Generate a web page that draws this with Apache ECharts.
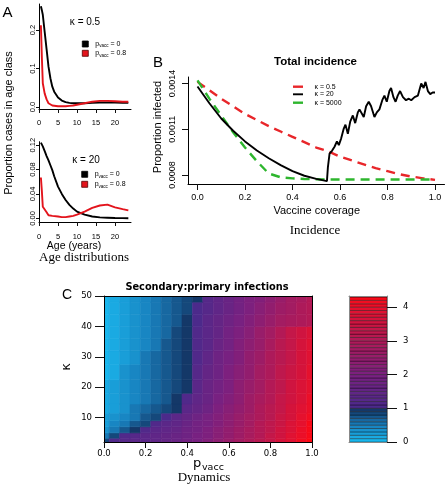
<!DOCTYPE html>
<html><head><meta charset="utf-8">
<script src="https://cdn.jsdelivr.net/npm/echarts@6/dist/echarts.min.js"></script>
<style>html,body{margin:0;padding:0;background:#fff}#c{width:448px;height:485px}</style>
</head><body><div id="c"></div><script>
// ---------- Panel A data: proportion of cases by age ----------
const ages = [0.5,0.75,1,1.5,2,2.5,3,3.5,4,5,6,7,8,9,10,12,14,16,18,20,22,23.5];
const k05_pv0  = [0.262,0.252,0.240,0.195,0.150,0.105,0.075,0.053,0.040,0.025,0.017,0.013,0.011,0.010,0.010,0.010,0.011,0.012,0.012,0.012,0.011,0.011];
const k05_pv08 = [0.213,0.130,0.062,0.035,0.020,0.010,0.006,0.004,0.003,0.002,0.002,0.002,0.003,0.004,0.006,0.010,0.014,0.016,0.016,0.015,0.014,0.014];
const k20_pv0  = [0.124,0.122,0.118,0.110,0.102,0.095,0.087,0.079,0.069,0.052,0.040,0.030,0.022,0.016,0.011,0.006,0.003,0.0015,0.001,0.0005,0.0003,0.0002];
const k20_pv08 = [0.067,0.045,0.019,0.016,0.010,0.005,0.004,0.004,0.004,0.003,0.002,0.002,0.003,0.004,0.006,0.011,0.017,0.021,0.0225,0.018,0.015,0.013];
const ageTicks = [0,5,10,15,20];
const propTicksTop = [0,0.1,0.2];
const propTicksBottom = [0,0.04,0.08,0.12];

// ---------- Panel B data: total incidence vs vaccine coverage ----------
const coverage = [0,0.05,0.1,0.15,0.2,0.25,0.3,0.35,0.4,0.45,0.5,0.55,0.6,0.65,0.7,0.75,0.8,0.85,0.9,0.95,1.0];
const incK05   = [0.00141,0.001355,0.00130,0.00125,0.00120,0.00116,0.00112,0.001085,0.00105,0.001015,0.00098,0.000955,0.00092,0.000895,0.00087,0.000845,0.000825,0.000805,0.00079,0.000778,0.000768];
const incK5000 = [0.00142,0.00130,0.00119,0.00108,0.00098,0.00089,0.00081,0.000785,0.000778,0.000774,0.000772,0.00077,0.00077,0.00077,0.00077,0.00077,0.00077,0.00077,0.00077,0.00077,0.00077];
const coverageK20 = [0,0.05,0.1,0.15,0.2,0.25,0.3,0.35,0.4,0.45,0.5,0.545,0.549,0.556,0.567,0.577,0.587,0.595,0.605,0.615,0.623,0.633,0.643,0.654,0.664,0.675,0.682,0.69,0.7,0.71,0.721,0.731,0.745,0.755,0.766,0.778,0.787,0.797,0.808,0.815,0.825,0.834,0.843,0.853,0.865,0.878,0.89,0.9,0.914,0.928,0.942,0.952,0.96,0.97,0.98,0.99,1.0];
const incK20 = [0.00138,0.00127,0.00117,0.00109,0.00102,0.00096,0.00091,0.000865,0.000825,0.000795,0.000775,0.00076,0.00085,0.00094,0.00096,0.000985,0.00102,0.000996,0.00104,0.0011,0.00113,0.00107,0.00115,0.00119,0.00114,0.00121,0.00123,0.00123,0.00118,0.00125,0.00128,0.00125,0.00118,0.00121,0.00123,0.00129,0.00132,0.00128,0.00135,0.00137,0.00131,0.00128,0.00132,0.00135,0.00131,0.00129,0.0013,0.00129,0.00131,0.00132,0.0014,0.00137,0.00141,0.00135,0.00133,0.00134,0.00134];
const coverTicks = [0,0.2,0.4,0.6,0.8,1.0];
const incTicks = [0.0008,0.0011,0.0014];

// ---------- Panel C data: secondary:primary ratio ----------
const pvaccCols = [0,0.05,0.1,0.15,0.2,0.25,0.3,0.35,0.4,0.45,0.5,0.55,0.6,0.65,0.7,0.75,0.8,0.85,0.9,0.95,1.0];
const kappaRows = [2.5,4,6,8,10,13,16,20,25,30,34,38,42,46,50];
const secPrimRatio = [
 [0.85,1.10,1.20,1.30,1.35,1.45,1.55,1.65,1.80,1.95,2.10,2.30,2.50,2.70,2.90,3.10,3.35,3.60,3.85,4.10,4.30],
 [0.55,0.85,1.10,1.20,1.30,1.40,1.50,1.62,1.76,1.92,2.08,2.27,2.47,2.67,2.88,3.08,3.32,3.56,3.80,4.05,4.28],
 [0.38,0.55,0.72,0.90,1.15,1.30,1.42,1.55,1.70,1.86,2.03,2.22,2.42,2.62,2.83,3.04,3.28,3.52,3.76,4.00,4.25],
 [0.27,0.42,0.57,0.72,0.87,1.10,1.30,1.45,1.62,1.80,1.98,2.17,2.37,2.58,2.79,3.00,3.23,3.47,3.71,3.95,4.20],
 [0.20,0.33,0.46,0.58,0.70,0.84,1.05,1.30,1.50,1.70,1.90,2.10,2.30,2.52,2.73,2.95,3.18,3.42,3.66,3.90,4.15],
 [0.15,0.27,0.39,0.50,0.61,0.72,0.83,0.97,1.30,1.55,1.78,2.00,2.22,2.45,2.67,2.90,3.13,3.37,3.60,3.84,4.08],
 [0.12,0.23,0.35,0.46,0.57,0.68,0.79,0.90,1.15,1.45,1.68,1.92,2.15,2.38,2.61,2.85,3.08,3.32,3.55,3.78,4.02],
 [0.10,0.21,0.32,0.43,0.54,0.65,0.76,0.87,0.97,1.35,1.60,1.85,2.08,2.32,2.55,2.79,3.02,3.26,3.50,3.73,3.96],
 [0.08,0.19,0.30,0.41,0.52,0.63,0.74,0.85,0.95,1.25,1.52,1.77,2.00,2.24,2.48,2.72,2.95,3.20,3.44,3.68,3.92],
 [0.06,0.17,0.28,0.39,0.50,0.61,0.72,0.83,0.94,1.18,1.45,1.70,1.93,2.17,2.41,2.65,2.90,3.15,3.39,3.63,3.87],
 [0.04,0.15,0.26,0.37,0.48,0.59,0.70,0.81,0.92,1.12,1.38,1.62,1.86,2.10,2.34,2.58,2.84,3.10,3.35,3.60,3.83],
 [0.03,0.14,0.25,0.36,0.47,0.58,0.69,0.80,0.91,1.10,1.35,1.58,1.82,2.05,2.28,2.52,2.78,3.05,3.35,3.55,3.70],
 [0.02,0.13,0.24,0.35,0.46,0.57,0.68,0.79,0.90,1.05,1.30,1.50,1.70,1.90,2.10,2.30,2.50,2.70,2.88,2.98,3.05],
 [0.01,0.12,0.23,0.34,0.45,0.56,0.67,0.78,0.89,1.02,1.27,1.47,1.66,1.85,2.04,2.23,2.42,2.60,2.78,2.92,3.02],
 [0.00,0.11,0.22,0.33,0.44,0.55,0.66,0.77,0.88,0.99,1.24,1.44,1.63,1.82,2.00,2.18,2.36,2.54,2.72,2.88,3.00]
];
const kappaTicks = [10,20,30,40,50];
const colorLevels = [0,0.1,0.2,0.3,0.4,0.5,0.6,0.7,0.8,0.9,1.0,1.1,1.2,1.3,1.4,1.5,1.6,1.7,1.8,1.9,2.0,2.1,2.2,2.3,2.4,2.5,2.6,2.7,2.8,2.9,3.0,3.1,3.2,3.3,3.4,3.5,3.6,3.7,3.8,3.9,4.0,4.1,4.2,4.3,4.33];
const colorTicks = [0,1,2,3,4];

// ---------- colour scale ----------
const blueStops = [[0,[26,182,236]],[0.5,[24,128,190]],[1,[20,56,104]]];
const redStops = [[1.0,[74,42,140]],[2.0,[122,32,128]],[3.0,[176,26,88]],[4.0,[232,16,44]],[4.35,[255,8,18]]];
function interp(stops, v){
  if (v <= stops[0][0]) return stops[0][1];
  for (let i=1;i<stops.length;i++){
    if (v <= stops[i][0]){
      const t=(v-stops[i-1][0])/(stops[i][0]-stops[i-1][0]);
      const a=stops[i-1][1], b=stops[i][1];
      return [0,1,2].map(j=>Math.round(a[j]+(b[j]-a[j])*t));
    }
  }
  return stops[stops.length-1][1];
}
function colorFor(z){
  let c;
  if (z < 1){ const b=Math.min(9,Math.max(0,Math.floor(z*10+1e-9))); c=interp(blueStops,b/9); }
  else { const b=Math.floor((z-1)*10+1e-9); c=interp(redStops,1+(b+0.5)*0.1); }
  return 'rgb('+c.join(',')+')';
}

const SANS='"Liberation Sans", Arial, sans-serif';
const DV='"DejaVu Sans", sans-serif';
const SERIF='"Liberation Serif", "Times New Roman", serif';

function ax(gridIndex, min, max, ticks, fmt, o){
  o=o||{};
  return {
    type:'value', gridIndex:gridIndex, min:min, max:max, position:o.position,
    axisLine:{show:true,onZero:false,lineStyle:{color:o.lineColor||'#000',width:1}},
    axisTick:{show:!!ticks, length:o.tickLen||4, customValues:ticks||undefined, lineStyle:{color:'#111',width:1}},
    axisLabel:{show:!!ticks, customValues:ticks||undefined, formatter:fmt, fontSize:o.fs||8, fontFamily:o.ff||SANS, color:'#000', margin:o.margin||6, rotate:o.rotate||0},
    splitLine:{show:false}, z:10
  };
}
const f1=v=>v.toFixed(1), f2=v=>v.toFixed(2), f4=v=>v.toFixed(4), fi=v=>String(v);

const heatData=[];
kappaRows.forEach((k,ri)=>pvaccCols.forEach((p,ci)=>heatData.push([p,k,secPrimRatio[ri][ci],ri])));
const cbData=[];
for(let i=0;i<colorLevels.length-1;i++) cbData.push([colorLevels[i],colorLevels[i+1]]);

const kMin=2, kMax=50, halfCol=0.025;
const richP={a:{fontSize:7,fontFamily:SANS,lineHeight:9},b:{fontSize:4.5,fontFamily:SANS,verticalAlign:'bottom',lineHeight:9}};

const chart=echarts.init(document.getElementById('c'),null,{renderer:'canvas'});
chart.setOption({
  animation:false,
  backgroundColor:'#fff',
  grid:[
    {left:39,top:4,width:92,height:105},
    {left:39,top:141.7,width:92,height:80.3},
    {left:188,top:77,width:256.5,height:107},
    {left:104,top:296,width:208,height:146},
    {left:349,top:296,width:38,height:146}
  ],
  xAxis:[
    ax(0,0,24.2,ageTicks,fi,{fs:7.5,margin:10,tickLen:4}),
    ax(1,0,24.2,ageTicks,fi,{fs:7.5,margin:11,tickLen:4}),
    ax(2,-0.04,1.04,coverTicks,f1,{fs:9,margin:9,tickLen:6}),
    ax(3,0,1,coverTicks,f1,{fs:8.5,ff:DV,margin:7,tickLen:6}),
    ax(3,0,1,null,null,{position:'top'}),
    ax(4,0,1,null,null,{lineColor:'#888'}),
    ax(4,0,1,null,null,{position:'top',lineColor:'#888'})
  ],
  yAxis:[
    ax(0,-0.005,0.268,propTicksTop,f1,{fs:7.5,margin:2.5,tickLen:3,rotate:90}),
    ax(1,-0.006,0.1256,propTicksBottom,f2,{fs:7.5,margin:2.5,tickLen:3,rotate:90}),
    ax(2,0.000741,0.001442,incTicks,f4,{fs:9,margin:11,tickLen:6,rotate:90}),
    ax(3,kMin,kMax,kappaTicks,fi,{fs:8.5,ff:DV,margin:12,tickLen:9}),
    ax(3,kMin,kMax,null,null,{position:'right'}),
    ax(4,0,4.33,null,null,{lineColor:'#888'}),
    ax(4,0,4.33,colorTicks,fi,{position:'right',fs:8.5,ff:DV,margin:16,tickLen:10,lineColor:'#888'})
  ],
  series:[
    {type:'line',xAxisIndex:0,yAxisIndex:0,data:ages.map((a,i)=>[a,k05_pv0[i]]),showSymbol:false,symbol:'none',lineStyle:{color:'#000',width:1.9},z:3},
    {type:'line',xAxisIndex:0,yAxisIndex:0,data:ages.map((a,i)=>[a,k05_pv08[i]]),showSymbol:false,symbol:'none',lineStyle:{color:'#e3141c',width:1.9},z:3},
    {type:'line',xAxisIndex:1,yAxisIndex:1,data:ages.map((a,i)=>[a,k20_pv0[i]]),showSymbol:false,symbol:'none',lineStyle:{color:'#000',width:1.9},z:3},
    {type:'line',xAxisIndex:1,yAxisIndex:1,data:ages.map((a,i)=>[a,k20_pv08[i]]),showSymbol:false,symbol:'none',lineStyle:{color:'#e3141c',width:1.9},z:3},
    {type:'line',xAxisIndex:2,yAxisIndex:2,data:coverage.map((p,i)=>[p,incK05[i]]),showSymbol:false,symbol:'none',lineStyle:{color:'#e8262a',width:2.4,type:[9,6]},z:3},
    {type:'line',xAxisIndex:2,yAxisIndex:2,data:coverage.map((p,i)=>[p,incK5000[i]]),showSymbol:false,symbol:'none',lineStyle:{color:'#2eb62e',width:2.4,type:[9,6]},z:3},
    {type:'line',xAxisIndex:2,yAxisIndex:2,data:coverageK20.map((p,i)=>[p,incK20[i]]),showSymbol:false,symbol:'none',lineStyle:{color:'#000',width:1.9},z:4},
    {type:'custom',xAxisIndex:3,yAxisIndex:3,clip:true,data:heatData,z:1,
     renderItem:function(params,api){
       const p=api.value(0), z=api.value(2), ri=api.value(3);
       const kLo = ri===0 ? kMin : (kappaRows[ri-1]+kappaRows[ri])/2;
       const kHi = ri===kappaRows.length-1 ? kMax : (kappaRows[ri]+kappaRows[ri+1])/2;
       const a=api.coord([Math.max(0,p-halfCol),kHi]), b=api.coord([Math.min(1,p+halfCol),kLo]);
       const col=colorFor(z);
       return {type:'rect',shape:{x:a[0],y:a[1],width:b[0]-a[0],height:b[1]-a[1]},style:{fill:col,stroke:col,lineWidth:0.6}};
     }},
    {type:'custom',xAxisIndex:5,yAxisIndex:6,clip:true,data:cbData,z:1,
     renderItem:function(params,api){
       const lo=api.value(0), hi=api.value(1);
       const a=api.coord([0,hi]), b=api.coord([1,lo]);
       return {type:'rect',shape:{x:a[0],y:a[1],width:b[0]-a[0],height:b[1]-a[1]},style:{fill:colorFor((lo+hi)/2),stroke:'rgba(0,0,0,0.6)',lineWidth:0.6}};
     }}
  ],
  graphic:{elements:[
    {type:'text',x:7.5,y:12.5,style:{text:'A',font:'15px '+SANS,fill:'#000',textAlign:'center',textVerticalAlign:'middle'}},
    {type:'text',x:85,y:22,style:{text:'κ = 0.5',font:'10px '+SANS,fill:'#000',textAlign:'center',textVerticalAlign:'middle'}},
    {type:'rect',shape:{x:82.3,y:41,width:6,height:6},style:{fill:'#000',stroke:'#000',lineWidth:0.8}},
    {type:'rect',shape:{x:82.3,y:50.3,width:6,height:6},style:{fill:'#e3141c',stroke:'#500',lineWidth:0.8}},
    {type:'text',x:95.3,y:44,style:{text:'{a|p}{b|vacc}{a| = 0}',rich:richP,fill:'#000',textAlign:'left',textVerticalAlign:'middle'}},
    {type:'text',x:95.3,y:53.3,style:{text:'{a|p}{b|vacc}{a| = 0.8}',rich:richP,fill:'#000',textAlign:'left',textVerticalAlign:'middle'}},
    {type:'text',x:86,y:160,style:{text:'κ = 20',font:'10px '+SANS,fill:'#000',textAlign:'center',textVerticalAlign:'middle'}},
    {type:'rect',shape:{x:81.7,y:171.3,width:6,height:6},style:{fill:'#000',stroke:'#000',lineWidth:0.8}},
    {type:'rect',shape:{x:81.7,y:181.3,width:6,height:6},style:{fill:'#e3141c',stroke:'#500',lineWidth:0.8}},
    {type:'text',x:94.7,y:174.3,style:{text:'{a|p}{b|vacc}{a| = 0}',rich:richP,fill:'#000',textAlign:'left',textVerticalAlign:'middle'}},
    {type:'text',x:94.7,y:184.3,style:{text:'{a|p}{b|vacc}{a| = 0.8}',rich:richP,fill:'#000',textAlign:'left',textVerticalAlign:'middle'}},
    {type:'text',x:8.5,y:123,rotation:Math.PI/2,style:{text:'Proportion cases in age class',font:'11px '+SANS,fill:'#000',textAlign:'center',textVerticalAlign:'middle'}},
    {type:'text',x:74,y:246.5,style:{text:'Age (years)',font:'10.5px '+SANS,fill:'#000',textAlign:'center',textVerticalAlign:'middle'}},
    {type:'text',x:84,y:258,style:{text:'Age distributions',font:'13px '+SERIF,fill:'#000',textAlign:'center',textVerticalAlign:'middle'}},

    {type:'text',x:158,y:62.5,style:{text:'B',font:'15px '+SANS,fill:'#000',textAlign:'center',textVerticalAlign:'middle'}},
    {type:'text',x:315.5,y:62,style:{text:'Total incidence',font:'bold 11.5px '+SANS,fill:'#000',textAlign:'center',textVerticalAlign:'middle'}},
    {type:'line',shape:{x1:293,y1:86.7,x2:303,y2:86.7},style:{stroke:'#e8262a',lineWidth:2.4}},
    {type:'line',shape:{x1:293,y1:94.3,x2:303,y2:94.3},style:{stroke:'#000',lineWidth:1.9}},
    {type:'line',shape:{x1:293,y1:102.7,x2:303,y2:102.7},style:{stroke:'#2eb62e',lineWidth:2.4}},
    {type:'text',x:314.5,y:86.7,style:{text:'κ = 0.5',font:'7px '+SANS,fill:'#000',textAlign:'left',textVerticalAlign:'middle'}},
    {type:'text',x:314.5,y:94.3,style:{text:'κ = 20',font:'7px '+SANS,fill:'#000',textAlign:'left',textVerticalAlign:'middle'}},
    {type:'text',x:314.5,y:102.7,style:{text:'κ = 5000',font:'7px '+SANS,fill:'#000',textAlign:'left',textVerticalAlign:'middle'}},
    {type:'text',x:157.5,y:127,rotation:Math.PI/2,style:{text:'Proportion infected',font:'11px '+SANS,fill:'#000',textAlign:'center',textVerticalAlign:'middle'}},
    {type:'text',x:316.7,y:210.5,style:{text:'Vaccine coverage',font:'11px '+SANS,fill:'#000',textAlign:'center',textVerticalAlign:'middle'}},
    {type:'text',x:315,y:230.5,style:{text:'Incidence',font:'13px '+SERIF,fill:'#000',textAlign:'center',textVerticalAlign:'middle'}},

    {type:'text',x:67,y:295.5,style:{text:'C',font:'14px '+SANS,fill:'#000',textAlign:'center',textVerticalAlign:'middle'}},
    {type:'text',x:207,y:287,style:{text:'Secondary:primary infections',font:'bold 9.8px '+DV,fill:'#000',textAlign:'center',textVerticalAlign:'middle'}},
    {type:'text',x:66.7,y:367,rotation:Math.PI/2,style:{text:'κ',font:'13px '+DV,fill:'#000',textAlign:'center',textVerticalAlign:'middle'}},
    {type:'text',x:193,y:463.5,style:{text:'p',font:'13px '+DV,fill:'#000',textAlign:'left',textVerticalAlign:'middle'}},
    {type:'text',x:202,y:468,style:{text:'vacc',font:'9.5px '+DV,fill:'#000',textAlign:'left',textVerticalAlign:'middle'}},
    {type:'text',x:204,y:478,style:{text:'Dynamics',font:'13px '+SERIF,fill:'#000',textAlign:'center',textVerticalAlign:'middle'}}
  ]}
});
</script></body></html>
